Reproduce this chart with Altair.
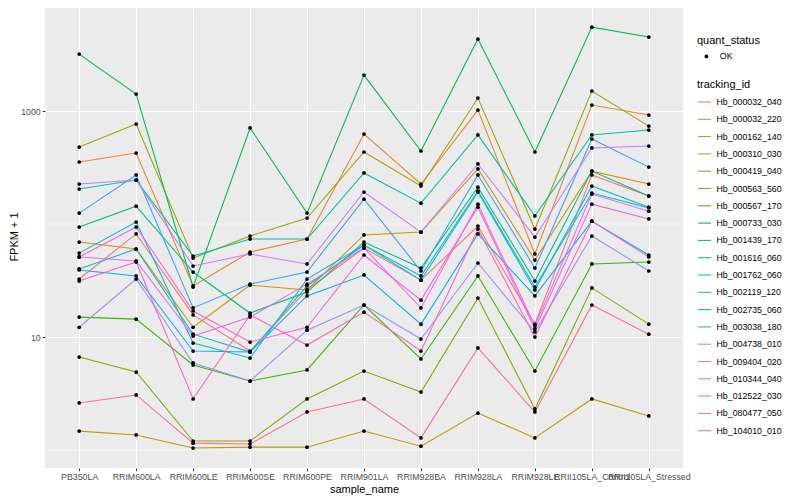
import altair as alt
import pandas as pd

samples = ["PB350LA", "RRIM600LA", "RRIM600LE", "RRIM600SE", "RRIM600PE",
           "RRIM901LA", "RRIM928BA", "RRIM928LA", "RRIM928LE",
           "RRII105LA_Control", "RRII105LA_Stressed"]

tracking_ids = ["Hb_000032_040", "Hb_000032_220", "Hb_000162_140", "Hb_000310_030",
                "Hb_000419_040", "Hb_000563_560", "Hb_000567_170", "Hb_000733_030",
                "Hb_001439_170", "Hb_001616_060", "Hb_001762_060", "Hb_002119_120",
                "Hb_002735_060", "Hb_003038_180", "Hb_004738_010", "Hb_009404_020",
                "Hb_010344_040", "Hb_012522_030", "Hb_080477_050", "Hb_104010_010"]

colors = ["#F8766D", "#EA8331", "#D89000", "#C09B00", "#A3A500", "#7CAE00", "#39B600",
          "#00BB4E", "#00BF7D", "#00C1A3", "#00BFC4", "#00BAE0", "#00B0F6", "#35A2FF",
          "#9590FF", "#C77CFF", "#E76BF3", "#FA62DB", "#FF62BC", "#FF6C91"]

# FPKM + 1 per sample (order of `samples`)
Hb_000032_040 = [32.6, 81.7, 15.7, 7.52, 26.1, 61.4, 31.9, 95.9, 13.0, 272, 177]
Hb_000032_220 = [354, 425, 28.3, 56.5, 73.6, 625, 226, 1020, 54.3, 1130, 922]
Hb_000162_140 = [69.3, 60.1, 12.2, 28.8, 26.1, 80.0, 84.9, 307, 48.0, 294, 226]
Hb_000310_030 = [1.47, 1.36, 1.04, 1.06, 1.06, 1.47, 1.08, 2.12, 1.28, 2.83, 2.0]
Hb_000419_040 = [480, 767, 50.0, 78.3, 113, 434, 217, 1303, 90.3, 1503, 736]
Hb_000563_560 = [6.65, 4.90, 1.20, 1.20, 2.83, 5.0, 3.26, 22.1, 2.31, 27.2, 13.0]
Hb_000567_170 = [15.0, 14.4, 5.65, 4.08, 5.11, 19.2, 6.39, 34.7, 5.0, 44.3, 46.1]
Hb_000733_030 = [3190, 1413, 27.7, 708, 125, 2080, 443, 4340, 434, 5530, 4520]
Hb_001439_170 = [94.0, 144, 37.6, 16.3, 25.0, 69.3, 40.8, 212, 31.3, 294, 177]
Hb_001616_060 = [204, 245, 52.1, 73.6, 73.6, 283, 153, 614, 118, 614, 679]
Hb_001762_060 = [40.0, 60.1, 10.6, 7.36, 28.3, 65.2, 34.7, 196, 27.7, 188, 139]
Hb_002119_120 = [55.3, 104, 8.85, 6.52, 32.6, 65.2, 31.9, 192, 26.1, 217, 141]
Hb_002735_060 = [39.2, 34.7, 7.52, 7.36, 23.1, 35.4, 13.0, 81.7, 23.1, 106, 53.2]
Hb_003038_180 = [125, 272, 18.1, 29.4, 37.6, 166, 38.4, 272, 40.8, 565, 319]
Hb_004738_010 = [12.2, 32.6, 5.89, 4.08, 11.5, 19.2, 9.59, 45.2, 11.1, 78.3, 38.4]
Hb_009404_020 = [226, 245, 42.5, 54.3, 44.3, 192, 84.9, 340, 76.7, 471, 490]
Hb_010344_040 = [51.1, 47.1, 10.2, 15.0, 29.4, 61.4, 18.1, 150, 12.5, 184, 130]
Hb_012522_030 = [51.1, 94.0, 17.0, 9.03, 12.2, 53.2, 21.2, 141, 11.8, 150, 111]
Hb_080477_050 = [31.3, 46.1, 2.83, 15.7, 8.49, 16.6, 7.52, 90.3, 10.0, 106, 51.1]
Hb_104010_010 = [2.61, 3.07, 1.15, 1.13, 2.17, 2.83, 1.28, 8.0, 2.17, 19.2, 10.6]

series = [Hb_000032_040, Hb_000032_220, Hb_000162_140, Hb_000310_030, Hb_000419_040,
          Hb_000563_560, Hb_000567_170, Hb_000733_030, Hb_001439_170, Hb_001616_060,
          Hb_001762_060, Hb_002119_120, Hb_002735_060, Hb_003038_180, Hb_004738_010,
          Hb_009404_020, Hb_010344_040, Hb_012522_030, Hb_080477_050, Hb_104010_010]

minor_breaks = [1, 100]
major_breaks = [10, 1000]

rows = []
for tid, vals in zip(tracking_ids, series):
    for i, (s, v) in enumerate(zip(samples, vals)):
        rows.append({"sample_name": s, "idx": i, "tracking_id": tid,
                     "fpkm": v, "quant_status": "OK"})
df = pd.DataFrame(rows)

FONT = "Liberation Sans"

xenc = alt.X("sample_name:N", sort=samples,
             scale=alt.Scale(type="point", domain=samples, padding=0.6),
             axis=alt.Axis(title="sample_name", labelAngle=0, grid=True,
                           gridColor="white", gridWidth=1.07, domain=False,
                           tickColor="#333333", tickSize=2.75, tickWidth=1.07,
                           labelColor="#4D4D4D", labelFontSize=8.8, labelPadding=2,
                           labelOverlap=False, labelFont=FONT,
                           titleFont=FONT, titleFontSize=11, titleFontWeight="normal",
                           titleColor="black", titleY=21, titleBaseline="middle"))

yscale = alt.Scale(type="log", domain=[0.693, 8166], nice=False)

yaxis = alt.Axis(title="FPKM + 1", values=major_breaks, format="d",
                 grid=True, gridColor="white", gridWidth=1.07, domain=False,
                 tickColor="#333333", tickSize=2.75, tickWidth=1.07,
                 labelColor="#4D4D4D", labelFontSize=8.8, labelPadding=2,
                 labelFont=FONT, titleFont=FONT, titleFontSize=11,
                 titleFontWeight="normal", titleColor="black",
                 titleX=-31, titleY=228.5, titleBaseline="middle")

yenc = alt.Y("fpkm:Q", scale=yscale, axis=yaxis)

minor = alt.Chart(pd.DataFrame({"fpkm": minor_breaks})).mark_rule(
    color="white", strokeWidth=0.55
).encode(y=yenc)

lines = alt.Chart(df).mark_line(strokeWidth=1.07).encode(
    x=xenc, y=yenc,
    color=alt.Color("tracking_id:N",
                    scale=alt.Scale(domain=tracking_ids, range=colors),
                    legend=alt.Legend(title="tracking_id", orient="none",
                                      legendX=652, legendY=71, padding=0,
                                      symbolType="stroke", symbolSize=169,
                                      symbolStrokeWidth=1.07, rowPadding=4.3,
                                      titlePadding=4.5, labelFontSize=8.8,
                                      labelFont=FONT, labelColor="black",
                                      titleFont=FONT, titleFontSize=11,
                                      titleFontWeight="normal", titleColor="black",
                                      labelOffset=4.5)),
    order="idx:Q",
)

points = alt.Chart(df).mark_point(filled=True, color="black", opacity=1).encode(
    x=xenc, y=yenc,
    shape=alt.Shape("quant_status:N", scale=alt.Scale(range=["circle"]),
                    legend=alt.Legend(title="quant_status", orient="none",
                                      legendX=652, legendY=27, padding=0,
                                      symbolSize=14, symbolFillColor="black",
                                      symbolStrokeColor="black", symbolOffset=5,
                                      labelOffset=9, titlePadding=6,
                                      labelFontSize=8.8, labelFont=FONT,
                                      labelColor="black", titleFont=FONT,
                                      titleFontSize=11, titleFontWeight="normal",
                                      titleColor="black")),
    size=alt.value(14),
)

chart = alt.layer(minor, lines, points).properties(
    width=638, height=460,
    background="white",
    autosize=alt.AutoSizeParams(type="none"),
    padding={"left": 37, "top": 0, "right": 109, "bottom": 30},
).configure_view(fill="#EBEBEB", strokeWidth=0)

chart.save("out.html", embed_options={"renderer": "svg", "actions": False})
